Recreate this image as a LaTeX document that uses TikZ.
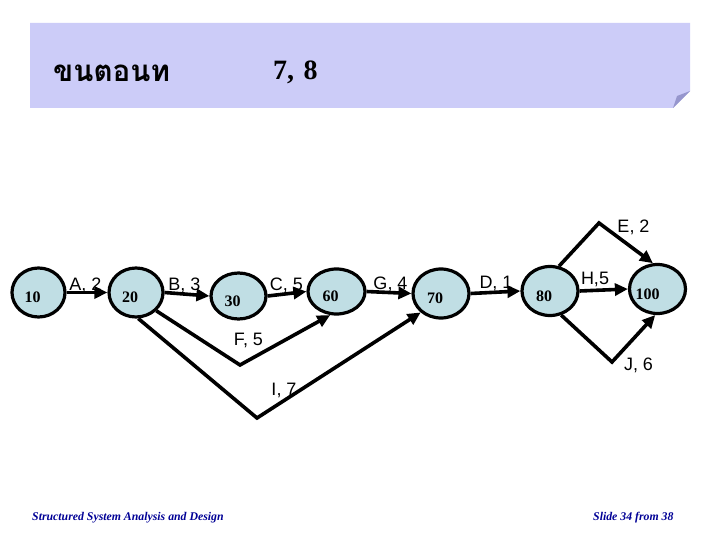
\documentclass[tikz,border=0pt]{standalone}
\usepackage{fontspec}
\setmainfont{Liberation Serif}
\newfontfamily\thaifont[Script=Thai]{Loma}
\newfontfamily\arialf{Liberation Sans}
\usetikzlibrary{shapes.geometric,arrows.meta}
\definecolor{barfill}{RGB}{204,204,248}
\definecolor{flapfill}{RGB}{150,150,205}
\definecolor{nodefill}{RGB}{192,222,228}
\definecolor{footblue}{RGB}{0,0,150}
\tikzset{
  evt/.style={ellipse,draw=black,line width=3.2pt,fill=nodefill,inner sep=0pt},
  numlbl/.style={font=\fontsize{16}{16}\selectfont\bfseries,inner sep=0pt,xshift=-6pt,yshift=-5pt},
  act/.style={line width=3.6pt,-{Triangle[length=13pt,width=12pt]},line join=miter},
  actlbl/.style={font=\arialf\fontsize{18}{18}\selectfont,inner sep=0pt,anchor=base},
  foot/.style={font=\fontsize{11.8}{12}\selectfont\bfseries\itshape,text=footblue,inner sep=0pt,anchor=base west}
}
\begin{document}
\begin{tikzpicture}[x=1pt,y=-1pt]
\useasboundingbox[fill=white] (0,0) rectangle (720,540);
% title bar
\path[fill=barfill] (30,23) -- (690,23) -- (690,91) -- (673,108) -- (30,108) -- cycle;
\path[fill=flapfill] (673,108) -- (690,91) -- (677,96) -- cycle;
\node[font=\thaifont\fontsize{29.5}{30}\selectfont\bfseries,anchor=base west,inner sep=0pt] (ttl) at (53,82) {ขนตอนท};
\node[font=\fontsize{28}{28}\selectfont\bfseries,anchor=base west,inner sep=0pt] (ttn) at (273,80) {7,\,\,8};
% events
\node[evt,minimum width=53pt,minimum height=49pt,label={[numlbl]center:10}] (n10) at (38.5,292.5) {};
\node[evt,minimum width=54pt,minimum height=49pt,label={[numlbl]center:20}] (n20) at (136,292.5) {};
\node[evt,minimum width=55pt,minimum height=46pt,label={[numlbl]center:30}] (n30) at (238.5,296) {};
\node[evt,minimum width=57pt,minimum height=45pt,label={[numlbl]center:60}] (n60) at (336.5,291.5) {};
\node[evt,minimum width=56pt,minimum height=49pt,label={[numlbl]center:70}] (n70) at (441,293.5) {};
\node[evt,minimum width=56pt,minimum height=49pt,label={[numlbl]center:80}] (n80) at (550,291) {};
\node[evt,minimum width=56pt,minimum height=49pt,label={[numlbl,xshift=-4pt]center:100}] (n100) at (657.5,289) {};
% bend points
\coordinate (cE) at (599,223);
\coordinate (cJ) at (612,362);
\coordinate (cF) at (240,365);
\coordinate (cI) at (257,418);
% activities
\draw[act] (n10.east) -- (n20.west);
\draw[act] (n20.east) -- (n30.west);
\draw[act] (n30.east) -- (n60.west);
\draw[act] (n60.east) -- (n70.west);
\draw[act] (n70.east) -- (n80.west);
\draw[act] (n80.east) -- (n100.west);
\draw[act] (n80.70) -- (cE) -- (n100.100);
\draw[act] (n80.295) -- (cJ) -- (n100.265);
\draw[act] (n20.318) -- (cF) -- (n60.255);
\draw[act] (n20.275) -- (cI) -- (n70.223);
% activity labels
\node[actlbl] (lA) at (85.5,290) {A, 2};
\node[actlbl] (lB) at (184.5,290) {B, 3};
\node[actlbl] (lC) at (286.5,290) {C, 5};
\node[actlbl] (lG) at (390.5,289.5) {G, 4};
\node[actlbl] (lD) at (496,288.5) {D, 1};
\node[actlbl] (lH) at (595,284.5) {H,5};
\node[actlbl] (lE) at (633.5,233) {E, 2};
\node[actlbl] (lJ) at (638.5,370) {J, 6};
\node[actlbl] (lF) at (248.5,345.5) {F, 5};
\node[actlbl] (lI) at (284,395) {I, 7};
% footer
\node[foot] (f1) at (32,520) {Structured System Analysis and Design};
\node[foot] (f2) at (593,520) {Slide 34 from 38};
\end{tikzpicture}
\end{document}
